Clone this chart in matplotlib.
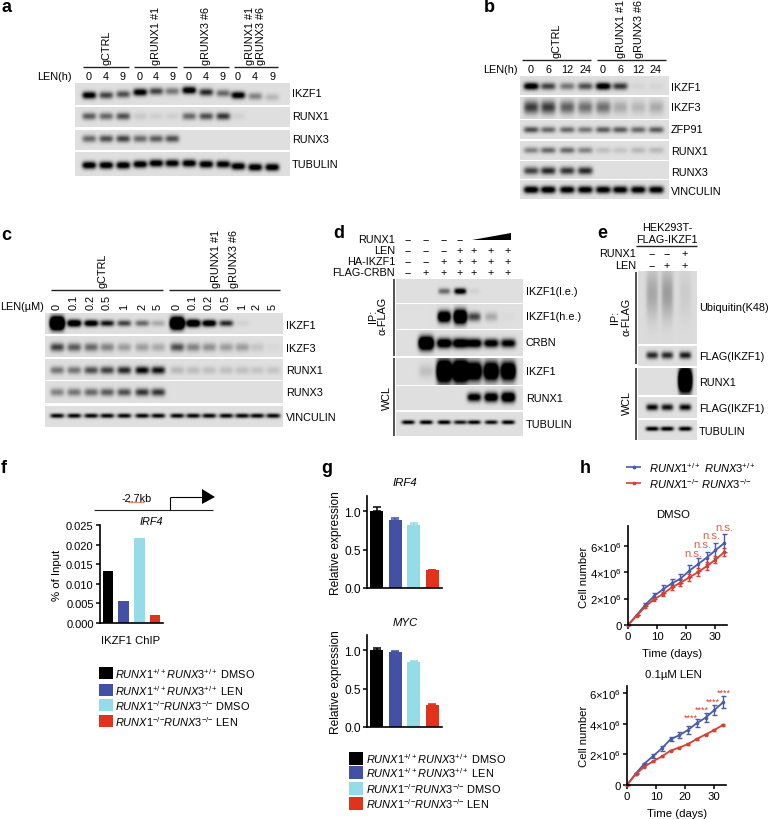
import numpy as np
import matplotlib
matplotlib.use("Agg")
import matplotlib.pyplot as plt

plt.rcParams["font.family"] = ["Liberation Sans", "DejaVu Sans"]
plt.rcParams["font.size"] = 7.8
plt.rcParams["mathtext.fontset"] = "custom"
plt.rcParams["mathtext.rm"] = "Liberation Sans"
plt.rcParams["mathtext.it"] = "Liberation Sans:italic"
plt.rcParams["mathtext.bf"] = "Liberation Sans:bold"

W, H = 768, 820

# blot band intensities, one value per lane
A_IKZF1 = [.95, .6, .55, .95, .6, .4, 1, .7, .45, .95, .35, .15]
A_RUNX1 = [.5, .45, .55, .08, .06, .06, .45, .55, .65, .05, 0, 0]
A_RUNX3 = [.45, .55, .6, .45, .5, .55, 0, 0, 0, 0, 0, 0]
A_TUB = [1, 1, 1, 1, 1, .95, 1, 1, .95, 1, 1, 1]
A_DRIFT = [1, 1, 0, -2, -3, -3, -4, -2, -1, 1, 2, 3]

B_IKZF1 = [1, .6, .4, .55, 1, .65, .04, .04]
B_IKZF3 = [.62, .62, .48, .42, .42, .2, .15, .2]
B_ZFP91 = [.55, .45, .45, .4, .5, .5, .45, .5]
B_RUNX1 = [.35, .45, .45, .35, .12, .1, .15, .15]
B_RUNX3 = [.6, .7, .65, .7, 0, 0, 0, 0]
B_VINC = [1, 1, .95, .95, .95, .95, .95, .95]

C_DOSES = ["0", "0.1", "0.2", "0.5", "1", "2", "5"]
C_IKZF1 = [2.5, 1.2, 1.05, .8, .6, .45, .2, 2.3, 1.3, 1.1, .7, .05, 0, 0]
C_IKZF3 = [.6, .5, .45, .35, .25, .25, .2, .55, .35, .3, .25, .25, .1, .03]
C_RUNX1 = [.4, .4, .55, .6, .7, .85, .8, .15, .13, .12, .12, .12, .1, .1]
C_RUNX3 = [.35, .4, .45, .5, .55, .65, .65, 0, 0, 0, 0, 0, 0, 0]
C_VINC = [.85] * 14

D_LE = [0, 0, .45, 1.0, .05, 0, 0]
D_HE = [0, 0, 1.4, 1.8, .6, .2, .02]
D_CRBN = [0, 1.8, 1.2, 1.2, 1.1, 1, .95]
D_WCL = [0, .12, 2, 2, 1.6, 1.6, 1.6]
D_RUNX1 = [0, 0, 0, 0, 1, 1.15, 1.3]
D_TUB = [.9, .95, .95, .8, .9, .85, .95]
D_SIGNS = [("RUNX1", "----"), ("LEN", "---++++"), ("HA-IKZF1", "--+++++"), ("FLAG-CRBN", "-++++++")]

E_UB = [.2, .24, .06]
E_FLAG1 = [.7, .7, .75]
E_RUNX1 = [0, 0, 2.6]
E_FLAG2 = [.85, .8, .85]
E_TUB = [.95, .95, .95]

# ChIP and expression bars
BAR_COLORS = ["#000000", "#4351A5", "#93DCE8", "#E1321B"]
CHIP = [0.0133, 0.0057, 0.0217, 0.002]
IRF4 = [1.0, 0.88, 0.82, 0.23]
IRF4_ERR = [0.05, 0.035, 0.02, 0.005]
MYC = [1.0, 0.98, 0.85, 0.28]
MYC_ERR = [0.025, 0.003, 0.005, 0.015]

# growth curves, in units of 1e6 cells
DAYS = [0, 3, 6, 9, 12, 15, 18, 21, 24, 27, 30, 33]
DMSO_WT = [0, .75, 1.55, 2.2, 2.7, 3.15, 3.5, 4.1, 4.6, 5.1, 5.65, 6.2]
DMSO_WT_ERR = [0, .03, .1, .25, .3, .3, .35, .45, .5, .45, .6, .7]
DMSO_KO = [0, .7, 1.4, 1.95, 2.35, 2.85, 3.2, 3.6, 4.0, 4.45, 4.95, 5.5]
DMSO_KO_ERR = [0, .03, .08, .15, .18, .2, .25, .3, .3, .3, .25, .3]
LEN_WT = [0, .75, 1.4, 1.9, 2.4, 3.0, 3.25, 3.6, 4.05, 4.4, 4.9, 5.4]
LEN_WT_ERR = [0, .03, .06, .15, .18, .15, .2, .25, .28, .3, .35, .4]
LEN_KO = [0, .7, 1.2, 1.55, 1.87, 2.25, 2.45, 2.68, 3.02, 3.3, 3.6, 3.93]
LEN_KO_ERR = [0, .02, .03, .04, .05, .05, .05, .05, .05, .05, .05, .05]

LEGEND_LABELS = [
    r"$\mathit{RUNX1}^{+/+}\mathit{RUNX3}^{+/+}$ DMSO",
    r"$\mathit{RUNX1}^{+/+}\mathit{RUNX3}^{+/+}$ LEN",
    r"$\mathit{RUNX1}^{{-}/{-}}\mathit{RUNX3}^{{-}/{-}}$ DMSO",
    r"$\mathit{RUNX1}^{{-}/{-}}\mathit{RUNX3}^{{-}/{-}}$ LEN",
]

fig = plt.figure(figsize=(W / 100, H / 100), dpi=100)

# whole-figure axes in pixel coordinates, for the blots and annotations
bg = fig.add_axes([0, 0, 1, 1], zorder=0)
bg.set_xlim(0, W)
bg.set_ylim(H, 0)
bg.set_autoscale_on(False)
bg.axis("off")


def txt(x, y, s, ha="left", va="center", **kw):
    bg.text(x, y, s, ha=ha, va=va, **kw)


def rule(x0, x1, y0, y1=None, lw=1.0, color="#222222"):
    bg.plot([x0, x1], [y0, y0 if y1 is None else y1], color=color, lw=lw, solid_capstyle="butt")


def blot(x0, x1, y0, y1, lanes, vals, wx=7, wy=3.0, drift=None, yc=None, shade=0.875):
    xs = np.arange(x0, x1, 0.5)
    ys = np.arange(y0, y1, 0.5)
    gx, gy = np.meshgrid(xs, ys)
    mid = (y0 + y1) / 2 if yc is None else yc
    dark = np.zeros_like(gx)
    for i, (lane, v) in enumerate(zip(lanes, vals)):
        off = 0 if drift is None else drift[i]
        # overexposed bands swell, they do not just get darker
        tall = wy * 1.2 * (1 + 0.6 * max(v - 1, 0))
        dark += 1.2 * v * np.exp(-((gx - lane) / wx) ** 4) * np.exp(-((gy - mid - off) / tall) ** 2)
    img = shade * (1 - np.clip(dark, 0, 1))
    bg.imshow(img, extent=(x0, x1, y1, y0), cmap="gray", vmin=0, vmax=1, aspect="auto",
              interpolation="bilinear")


def panel_axes(x0, x1, ytop, ybot, labelsize=8.6):
    ax = fig.add_axes([x0 / W, 1 - ybot / H, (x1 - x0) / W, (ybot - ytop) / H], zorder=2)
    ax.patch.set_visible(False)
    for side in ["top", "right"]:
        ax.spines[side].set_visible(False)
    for side in ["left", "bottom"]:
        ax.spines[side].set_linewidth(1.2)
    ax.tick_params(width=1.1, length=3, pad=1.5, labelsize=labelsize)
    return ax


def bars(ax, vals, errs=None):
    ax.bar(range(4), vals, width=0.7, color=BAR_COLORS)
    if errs is not None:
        for i in range(4):
            ax.errorbar(i, vals[i], yerr=[[0], [errs[i]]], fmt="none", ecolor=BAR_COLORS[i],
                        elinewidth=1.1, capsize=3, capthick=1.1)
    ax.set_xlim(-0.51, 3.51)
    ax.set_xticks([])


def legend_block(x, x_text, rows, h):
    for y, col, lab in zip(rows, BAR_COLORS, LEGEND_LABELS):
        bg.fill_between([x, x + 14], y - h / 2, y + h / 2, color=col, lw=0)
        txt(x_text, y, lab, fontsize=7.9)


# panel letters
for s, x, y in [("a", 1, 8), ("b", 484, 8), ("c", 1, 235), ("d", 333, 234), ("e", 597, 234),
                ("f", 1, 469), ("g", 321, 469), ("h", 580, 469)]:
    txt(x, y, s, fontsize=13, fontweight="bold", color="black")

# a
a_lanes = [89, 106, 123, 140, 156, 172, 189, 206, 223, 238, 255, 272]
blot(75, 290, 84, 106, a_lanes, A_IKZF1, yc=95, drift=A_DRIFT)
blot(75, 290, 108, 128, a_lanes, A_RUNX1, yc=117)
blot(75, 290, 131, 151, a_lanes, A_RUNX3, yc=139.5)
blot(75, 290, 153, 177, a_lanes, A_TUB, yc=166, wy=3.0, drift=[0, 0, 0, -1, -2, -2, -2, -1, -1, 1, 2, 2])
for x0, x1 in [(83, 129), (134, 177), (183, 229), (234, 278)]:
    rule(x0, x1, 68)
for s, x in [("gCTRL", 107), ("gRUNX1 #1", 156), ("gRUNX3 #6", 206), ("gRUNX1 #1", 250), ("gRUNX3 #6", 261)]:
    txt(x, 65, s, ha="center", va="bottom", rotation=90)
for x, s in zip(a_lanes, list("049049049049")):
    txt(x, 77, s, ha="center")
txt(72, 77, "LEN(h)", ha="right")
for s, y in [("IKZF1", 94), ("RUNX1", 117), ("RUNX3", 140), ("TUBULIN", 165)]:
    txt(292, y, s)

# b
b_lanes = [531, 548, 567, 585, 603, 620, 638, 656]
blot(520, 669, 77, 96, b_lanes, B_IKZF1, wx=7.5, yc=87)
blot(520, 669, 98, 120, b_lanes, B_IKZF3, wx=7.5, wy=5.5, yc=108)
blot(520, 669, 121, 140, b_lanes, B_ZFP91, wx=7.5, wy=2.6, yc=130.5)
blot(520, 669, 142, 161, b_lanes, B_RUNX1, wx=7.5, wy=2.6, yc=151)
blot(520, 669, 162, 180, b_lanes, B_RUNX3, wx=7.5, wy=3.2, yc=171.5)
blot(520, 669, 181, 200, b_lanes, B_VINC, wx=7.5, wy=3.0, yc=190.5)
rule(522, 591, 61)
rule(597, 666, 61)
for s, x in [("gCTRL", 557), ("gRUNX1 #1", 621), ("gRUNX3 #6", 639)]:
    txt(x, 58, s, ha="center", va="bottom", rotation=90)
for x, s in zip(b_lanes, ["0", "6", "12", "24"] * 2):
    txt(x, 70, s, ha="center")
txt(518, 70, "LEN(h)", ha="right")
for s, y in [("IKZF1", 88), ("IKZF3", 108), ("ZFP91", 130), ("RUNX1", 152), ("RUNX3", 173), ("VINCULIN", 192)]:
    txt(671, y, s)

# c
c_lanes = [57, 74, 91, 107, 124, 142, 158, 177, 193, 209, 226, 242, 257, 273]
blot(45, 283, 314, 335, c_lanes, C_IKZF1, wx=7, wy=2.6, yc=324)
blot(45, 283, 337, 358, c_lanes, C_IKZF3, wx=7, wy=3.5, yc=348)
blot(45, 283, 360, 381, c_lanes, C_RUNX1, wx=7, wy=3.2, yc=371)
blot(45, 283, 382, 404, c_lanes, C_RUNX3, wx=7, wy=3.2, yc=393)
blot(45, 283, 407, 428, c_lanes, C_VINC, wx=7, wy=1.9, yc=416.5)
rule(51, 163, 291)
rule(169, 280, 291)
for s, x in [("gCTRL", 102), ("gRUNX1 #1", 216), ("gRUNX3 #6", 234)]:
    txt(x, 288, s, ha="center", va="bottom", rotation=90)
for x, s in zip(c_lanes, C_DOSES * 2):
    txt(x, 310, s, ha="center", va="bottom", rotation=90)
txt(44, 307, "LEN(\u00b5M)", ha="right")
for s, y in [("IKZF1", 326), ("IKZF3", 349), ("RUNX1", 371), ("RUNX3", 393), ("VINCULIN", 418)]:
    txt(286, y, s)

# d
d_lanes = [408, 426, 444, 460, 474, 491, 508]
blot(396, 523, 280, 304, d_lanes, D_LE, wx=6, wy=2.5, yc=292)
blot(396, 523, 306, 330, d_lanes, D_HE, wx=6.5, wy=3.6, yc=318)
blot(396, 523, 331, 357, d_lanes, D_CRBN, wx=7.5, wy=3.6, yc=344)
blot(396, 523, 359, 386, d_lanes, D_WCL, wx=7.5, wy=5.5, yc=372)
blot(396, 523, 387, 411, d_lanes, D_RUNX1, wx=7, wy=3.6, yc=398)
blot(396, 523, 413, 437, d_lanes, D_TUB, wx=6.5, wy=1.7, yc=423)
for (s, signs), y in zip(D_SIGNS, [240, 251, 262, 273]):
    txt(395, y, s, ha="right")
    for x, c in zip(d_lanes, signs):
        txt(x, y, "\u2212" if c == "-" else "+", ha="center")
bg.fill([472, 511, 511], [241, 241, 234], color="black", lw=0)
rule(394, 394, 280, 357, lw=1.1)
rule(394, 394, 359, 437, lw=1.1)
txt(373, 316, "IP:", ha="center", rotation=90)
txt(383, 316, "\u03b1-FLAG", ha="center", rotation=90)
txt(387, 398, "WCL", ha="center", rotation=90)
for s, y in [("IKZF1(l.e.)", 292), ("IKZF1(h.e.)", 317), ("CRBN", 343), ("IKZF1", 372), ("RUNX1", 399), ("TUBULIN", 425)]:
    txt(526, y, s)

# e
e_lanes = [652, 667, 685]
blot(638, 697, 273, 345, e_lanes, E_UB, wx=6, wy=20, yc=295, shade=0.86)
blot(638, 697, 347, 367, e_lanes, E_FLAG1, wx=6, wy=3, yc=356)
blot(638, 697, 369, 396, e_lanes, E_RUNX1, wx=6.5, wy=4.5, yc=381)
blot(638, 697, 398, 419, e_lanes, E_FLAG2, wx=6, wy=2.7, yc=408)
blot(638, 697, 421, 441, e_lanes, E_TUB, wx=6.5, wy=1.8, yc=429.5)
txt(667, 228, "HEK293T-", ha="center")
txt(667, 240, "FLAG-IKZF1", ha="center")
rule(636, 697, 247)
for s, signs, y in [("RUNX1", "--+", 254), ("LEN", "-++", 266)]:
    txt(636, y, s, ha="right")
    for x, c in zip(e_lanes, signs):
        txt(x, y, "\u2212" if c == "-" else "+", ha="center")
rule(636, 636, 273, 365, lw=1.1)
rule(636, 636, 369, 441, lw=1.1)
txt(615, 317, "IP:", ha="center", rotation=90)
txt(627, 317, "\u03b1-FLAG", ha="center", rotation=90)
txt(627, 403, "WCL", ha="center", rotation=90)
for s, y in [("Ubiquitin(K48)", 308), ("FLAG(IKZF1)", 357), ("RUNX1", 383), ("FLAG(IKZF1)", 409), ("TUBULIN", 432)]:
    txt(699, y, s)

# f
rule(94, 213, 511, lw=0.8)
rule(170, 170, 511, 498, lw=0.8, color="black")
rule(170, 203, 498, lw=0.8, color="black")
bg.fill([202, 202, 215], [490, 505, 498], color="black", lw=0)
txt(137, 499, "-2.7kb", ha="center")
rule(128, 144, 503, lw=1.0, color="#D98A80")
txt(151, 522, "IRF4", ha="center", style="italic")
ax = panel_axes(100, 163, 526, 624, labelsize=8)
bars(ax, CHIP)
ax.set_ylim(0, 0.025)
ax.set_yticks([0, 0.005, 0.01, 0.015, 0.02, 0.025])
ax.set_yticklabels(["0.000", "0.005", "0.010", "0.015", "0.020", "0.025"])
txt(57, 575, "% of Input", ha="center", rotation=90, fontsize=8.2)
txt(131, 641, "IKZF1 ChIP", ha="center", fontsize=8.2)
legend_block(99, 115, [674, 691, 706, 722], 11.5)

# g
for vals, errs, ytop, ybot, title, ty in [(IRF4, IRF4_ERR, 497, 589, "IRF4", 483), (MYC, MYC_ERR, 636, 728, "MYC", 623)]:
    ax = panel_axes(367, 442, ytop, ybot)
    bars(ax, vals, errs)
    ax.set_ylim(0, 1.195)
    ax.set_yticks([0, 0.5, 1.0])
    ax.set_yticklabels(["0.0", "0.5", "1.0"])
    txt(405, ty, title, ha="center", style="italic", fontsize=8.2)
    txt(336, (ytop + ybot) / 2, "Relative expression", ha="center", rotation=90, fontsize=8.6)
legend_block(349, 366, [759, 773, 789, 804], 13)

# h
BLUE, RED = "#4A5BAA", "#DB3F2E"
rule(626, 641, 468, lw=1.2, color=BLUE)
rule(626, 641, 484, lw=1.2, color=RED)
bg.plot([633.5], [468], marker="o", ms=1.8, color=BLUE)
bg.plot([633.5], [484], marker="s", ms=1.8, color=RED)
txt(649, 468, r"$\mathit{RUNX1}^{+/+}\ \mathit{RUNX3}^{+/+}$", fontsize=8)
txt(649, 484, r"$\mathit{RUNX1}^{{-}/{-}}\ \mathit{RUNX3}^{{-}/{-}}$", fontsize=8)


def growth(x0, x1, ytop, ybot, ymax, wt, wt_err, ko, ko_err, yticks):
    ax = panel_axes(x0, x1, ytop, ybot, labelsize=8.2)
    ax.errorbar(DAYS, wt, yerr=wt_err, color=BLUE, lw=1.3, marker="o", ms=1.6,
                elinewidth=1, capsize=1.8, capthick=1, clip_on=False)
    ax.errorbar(DAYS, ko, yerr=ko_err, color=RED, lw=1.3, marker="s", ms=1.8,
                elinewidth=1, capsize=1.6, capthick=1, clip_on=False)
    ax.set_xlim(0, 34)
    ax.set_ylim(0, ymax)
    ax.set_xticks([0, 10, 20, 30])
    ax.set_yticks(yticks)
    ax.set_yticklabels(["0" if t == 0 else "%d\u00d710$^{6}$" % t for t in yticks])
    return ax


growth(628, 727, 527, 626, 7.5, DMSO_WT, DMSO_WT_ERR, DMSO_KO, DMSO_KO_ERR, [0, 2, 4, 6])
growth(627, 726, 687, 786, 6.47, LEN_WT, LEN_WT_ERR, LEN_KO, LEN_KO_ERR, [0, 2, 4, 6])
txt(673, 515, "DMSO", ha="center", fontsize=8.2)
txt(673, 675, "0.1\u00b5M LEN", ha="center", fontsize=8.2)
txt(672, 654, "Time (days)", ha="center", fontsize=8.2)
txt(677, 814, "Time (days)", ha="center", fontsize=8.2)
txt(584, 577, "Cell number", ha="center", rotation=90, fontsize=8.2)
txt(584, 736, "Cell number", ha="center", rotation=90, fontsize=8.2)
for x, y in [(693, 554), (702, 545), (711, 536), (724, 528)]:
    txt(x, y, "n.s.", ha="center", color="#E0604F", fontsize=8.2, zorder=5)
for x, y in [(691, 718), (702, 710), (713, 702), (724, 693)]:
    txt(x, y, "****", ha="center", color="#E0392B", fontsize=6.5, zorder=5)

fig.savefig("out.png", dpi=100)
